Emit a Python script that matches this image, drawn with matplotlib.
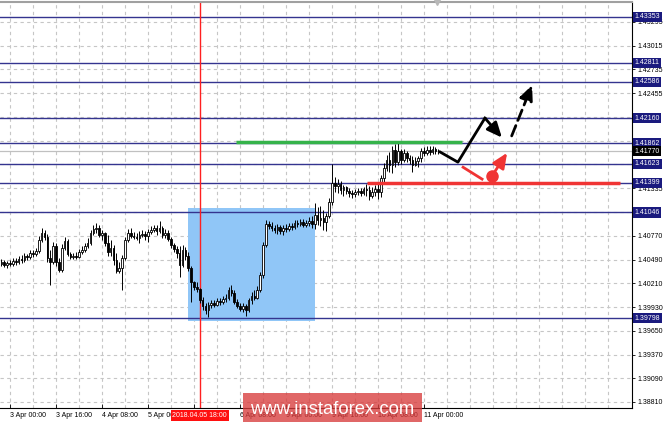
import matplotlib
matplotlib.use("Agg")
import matplotlib.pyplot as plt
import matplotlib.patches as mpatches
import numpy as np

# ── H1 candles, first bar = 2 Apr 21:00 (bar index -3, 0 = 3 Apr 00:00) ──────
first_bar = -3
opens = [
    1.4044, 1.4046, 1.4043, 1.4045, 1.4044, 1.4047, 1.4046, 1.4050, 1.4049, 1.4053,
    1.4052, 1.4057, 1.4056, 1.4059, 1.4072, 1.4080, 1.4076, 1.4051, 1.4046, 1.4065,
    1.4046, 1.4037, 1.4063, 1.4071, 1.4056, 1.4052, 1.4053, 1.4052, 1.4058, 1.4060,
    1.4065, 1.4069, 1.4080, 1.4085, 1.4086, 1.4078, 1.4080, 1.4069, 1.4058, 1.4063,
    1.4049, 1.4036, 1.4039, 1.4051, 1.4072, 1.4080, 1.4077, 1.4076, 1.4075, 1.4078,
    1.4079, 1.4077, 1.4082, 1.4084, 1.4086, 1.4083, 1.4086, 1.4078, 1.4080, 1.4073,
    1.4066, 1.4062, 1.4057, 1.4043, 1.4060, 1.4053, 1.4039, 1.4022, 1.4017, 1.4014,
    1.4001, 1.3994, 1.3990, 1.3996, 1.3998, 1.3996, 1.4000, 1.3999, 1.4003, 1.4004,
    1.4013, 1.4010, 1.3999, 1.3994, 1.3991, 1.3994, 1.3990, 1.4001, 1.4006, 1.4004,
    1.4013, 1.4031, 1.4066, 1.4091, 1.4089, 1.4086, 1.4084, 1.4088, 1.4083, 1.4086,
    1.4085, 1.4089, 1.4088, 1.4092, 1.4091, 1.4093, 1.4090, 1.4092, 1.4095, 1.4091,
    1.4102, 1.4096, 1.4098, 1.4093, 1.4100, 1.4117, 1.4140, 1.4136, 1.4138, 1.4131,
    1.4135, 1.4130, 1.4128, 1.4127, 1.4129, 1.4130, 1.4128, 1.4132, 1.4131, 1.4124,
    1.4129, 1.4132, 1.4129, 1.4145, 1.4157, 1.4167, 1.4161, 1.4178, 1.4164, 1.4177,
    1.4167, 1.4175, 1.4169, 1.4167, 1.4161, 1.4165, 1.4169, 1.4177, 1.4175, 1.4178,
    1.4176, 1.4180, 1.4177,
]
highs = [
    1.4050, 1.4049, 1.4047, 1.4049, 1.4051, 1.4051, 1.4053, 1.4054, 1.4057, 1.4056,
    1.4060, 1.4060, 1.4063, 1.4077, 1.4086, 1.4084, 1.4079, 1.4060, 1.4070, 1.4069,
    1.4051, 1.4067, 1.4076, 1.4073, 1.4058, 1.4057, 1.4058, 1.4062, 1.4065, 1.4069,
    1.4075, 1.4084, 1.4090, 1.4092, 1.4090, 1.4084, 1.4082, 1.4078, 1.4072, 1.4066,
    1.4057, 1.4046, 1.4054, 1.4076, 1.4085, 1.4086, 1.4082, 1.4080, 1.4083, 1.4084,
    1.4083, 1.4085, 1.4089, 1.4090, 1.4090, 1.4095, 1.4089, 1.4085, 1.4084, 1.4076,
    1.4069, 1.4065, 1.4065, 1.4066, 1.4064, 1.4058, 1.4042, 1.4024, 1.4022, 1.4016,
    1.4005, 1.3998, 1.3999, 1.4001, 1.4001, 1.4004, 1.4004, 1.4006, 1.4009, 1.4017,
    1.4019, 1.4013, 1.4003, 1.3998, 1.3998, 1.3997, 1.4004, 1.4011, 1.4013, 1.4018,
    1.4034, 1.4070, 1.4096, 1.4095, 1.4093, 1.4090, 1.4091, 1.4090, 1.4090, 1.4091,
    1.4092, 1.4092, 1.4096, 1.4096, 1.4097, 1.4097, 1.4096, 1.4099, 1.4100, 1.4116,
    1.4111, 1.4112, 1.4108, 1.4104, 1.4122, 1.4162, 1.4147, 1.4144, 1.4142, 1.4137,
    1.4136, 1.4134, 1.4131, 1.4132, 1.4134, 1.4134, 1.4135, 1.4138, 1.4136, 1.4135,
    1.4137, 1.4138, 1.4149, 1.4163, 1.4173, 1.4176, 1.4183, 1.4186, 1.4188, 1.4180,
    1.4180, 1.4177, 1.4173, 1.4171, 1.4170, 1.4171, 1.4181, 1.4182, 1.4183, 1.4183,
    1.4183, 1.4182, 1.4180,
]
lows = [
    1.4042, 1.4040, 1.4039, 1.4042, 1.4042, 1.4043, 1.4044, 1.4045, 1.4046, 1.4049,
    1.4050, 1.4052, 1.4053, 1.4057, 1.4070, 1.4072, 1.4046, 1.4019, 1.4044, 1.4042,
    1.4034, 1.4034, 1.4060, 1.4053, 1.4050, 1.4050, 1.4050, 1.4051, 1.4056, 1.4058,
    1.4063, 1.4066, 1.4078, 1.4080, 1.4076, 1.4072, 1.4065, 1.4053, 1.4053, 1.4043,
    1.4033, 1.4033, 1.4013, 1.4049, 1.4070, 1.4075, 1.4073, 1.4072, 1.4069, 1.4076,
    1.4072, 1.4070, 1.4079, 1.4082, 1.4078, 1.4080, 1.4075, 1.4075, 1.4071, 1.4063,
    1.4058, 1.4051, 1.4029, 1.4040, 1.4049, 1.4036, 1.3999, 1.4013, 1.4011, 1.3998,
    1.3990, 1.3985, 1.3981, 1.3992, 1.3993, 1.3994, 1.3996, 1.3997, 1.3999, 1.4001,
    1.4006, 1.3997, 1.3992, 1.3988, 1.3987, 1.3983, 1.3987, 1.3997, 1.4001, 1.4003,
    1.4011, 1.4027, 1.4064, 1.4085, 1.4083, 1.4080, 1.4079, 1.4079, 1.4078, 1.4082,
    1.4083, 1.4084, 1.4085, 1.4088, 1.4089, 1.4088, 1.4088, 1.4089, 1.4086, 1.4085,
    1.4090, 1.4089, 1.4084, 1.4083, 1.4098, 1.4113, 1.4129, 1.4128, 1.4127, 1.4124,
    1.4127, 1.4123, 1.4122, 1.4123, 1.4125, 1.4124, 1.4125, 1.4124, 1.4119, 1.4122,
    1.4124, 1.4121, 1.4123, 1.4140, 1.4154, 1.4152, 1.4151, 1.4158, 1.4161, 1.4162,
    1.4164, 1.4164, 1.4162, 1.4152, 1.4160, 1.4158, 1.4164, 1.4171, 1.4173, 1.4173,
    1.4174, 1.4174, 1.4174,
]
closes = [
    1.4046, 1.4043, 1.4045, 1.4044, 1.4047, 1.4046, 1.4050, 1.4049, 1.4053, 1.4052,
    1.4057, 1.4056, 1.4059, 1.4072, 1.4080, 1.4076, 1.4051, 1.4046, 1.4065, 1.4046,
    1.4037, 1.4063, 1.4071, 1.4056, 1.4052, 1.4053, 1.4052, 1.4058, 1.4060, 1.4065,
    1.4069, 1.4080, 1.4085, 1.4086, 1.4078, 1.4080, 1.4069, 1.4058, 1.4063, 1.4049,
    1.4036, 1.4039, 1.4051, 1.4072, 1.4080, 1.4077, 1.4076, 1.4075, 1.4078, 1.4079,
    1.4077, 1.4082, 1.4084, 1.4086, 1.4083, 1.4086, 1.4078, 1.4080, 1.4073, 1.4066,
    1.4062, 1.4057, 1.4043, 1.4060, 1.4053, 1.4039, 1.4022, 1.4017, 1.4014, 1.4001,
    1.3994, 1.3990, 1.3996, 1.3998, 1.3996, 1.4000, 1.3999, 1.4003, 1.4004, 1.4013,
    1.4010, 1.3999, 1.3994, 1.3991, 1.3994, 1.3990, 1.4001, 1.4006, 1.4004, 1.4013,
    1.4031, 1.4066, 1.4091, 1.4089, 1.4086, 1.4084, 1.4088, 1.4083, 1.4086, 1.4085,
    1.4089, 1.4088, 1.4092, 1.4091, 1.4093, 1.4090, 1.4092, 1.4095, 1.4091, 1.4102,
    1.4096, 1.4098, 1.4093, 1.4100, 1.4117, 1.4140, 1.4136, 1.4138, 1.4131, 1.4135,
    1.4130, 1.4128, 1.4127, 1.4129, 1.4130, 1.4128, 1.4132, 1.4131, 1.4124, 1.4129,
    1.4132, 1.4129, 1.4145, 1.4157, 1.4167, 1.4161, 1.4178, 1.4164, 1.4177, 1.4167,
    1.4175, 1.4169, 1.4167, 1.4161, 1.4165, 1.4169, 1.4177, 1.4175, 1.4178, 1.4176,
    1.4180, 1.4177, 1.4177,
]

# horizontal levels (navy), bid price, axis ticks
levels = [1.43353, 1.42811, 1.42586, 1.42160, 1.41862, 1.41623, 1.41399, 1.41046, 1.39798]
bid = 1.41770
grid_prices = [1.43295, 1.43015, 1.42735, 1.42455, 1.42175, 1.41895, 1.41615, 1.41335,
               1.41050, 1.40770, 1.40490, 1.40210, 1.39930, 1.39650, 1.39370, 1.39090, 1.38810]
# labels that sit under a level box are not shown
price_labels = ["1.43295", "1.43015", "1.42735", "1.42455", "", "", "",
                "1.41335", "", "1.40770", "1.40490", "1.40210", "1.39930", "1.39650",
                "1.39370", "1.39090", "1.38810"]
time_ticks = [0, 16, 32, 48, 64, 80, 96, 112, 128, 144]
time_labels = ["3 Apr 00:00", "3 Apr 16:00", "4 Apr 08:00", "5 Apr 00:00", "",
               "6 Apr 08:00", "9 Apr 00:00", "9 Apr 16:00", "10 Apr 08:00", "11 Apr 00:00"]
marker_bar = 66            # 2018.04.05 18:00
marker_label = "2018.04.05 18:00"

# analyst drawings (bar index, price)
box_zone = (61.9, 106.1, 1.3977, 1.4110)
green_res = (78.6, 157.2, 1.41882)
red_sup = (124.2, 212.2, 1.41399)
black_path = [(149.6, 1.4176), (155.8, 1.4164), (165.2, 1.4216), (171.1, 1.4193)]
black_dash = [(174.5, 1.4195), (181.6, 1.4255)]
red_dash = [(157.6, 1.4158), (164.2, 1.4144)]
red_dot = (167.7, 1.4148)
red_arrow_tip = (172.9, 1.4175)

NAVY = "#34348f"
NAVY_BOX = "#1a1a7e"
GRID = "#c6c6c6"
FS = 5.0

plt.rcParams["font.family"] = ["Liberation Sans", "DejaVu Sans"]

fig = plt.figure(figsize=(6.65, 4.22), dpi=100)
ax = fig.add_axes([0, 14 / 422, 632 / 665, 406 / 422])
ax.set_xlim(-3.48, 216.35)
ax.set_ylim(1.38739, 1.43530)

# grid
for gx in range(0, 216, 8):
    ax.axvline(gx, color=GRID, lw=0.8, ls=(0, (3, 3)), zorder=0)
for gy in grid_prices:
    ax.axhline(gy, color=GRID, lw=0.8, ls=(0, (3, 3)), zorder=0)

# zone
x0, x1, y0, y1 = box_zone
ax.add_patch(mpatches.Rectangle((x0, y0), x1 - x0, y1 - y0, color="#90c6f7", lw=0, zorder=1))

# levels
for lv in levels:
    ax.axhline(lv, color=NAVY, lw=1.0, zorder=2)
ax.axhline(bid, color="#c0c0c0", lw=0.9, zorder=2)
ax.axvline(marker_bar, color="#ff2020", lw=1.0, zorder=2)

# candles
o = np.array(opens); h = np.array(highs); l = np.array(lows); c = np.array(closes)
xs = np.arange(len(c)) + first_bar
ax.vlines(xs, l, h, color="black", lw=0.7, zorder=3)
up = c >= o
ax.bar(xs[up], c[up] - o[up], bottom=o[up], width=0.6, color="white",
       edgecolor="black", lw=0.6, zorder=4)
ax.bar(xs[~up], o[~up] - c[~up], bottom=c[~up], width=0.6, color="black",
       edgecolor="black", lw=0.6, zorder=4)

# drawings
ax.plot(green_res[:2], [green_res[2]] * 2, color="#35b34a", lw=2.5, zorder=5, solid_capstyle="butt")
ax.plot(red_sup[:2], [red_sup[2]] * 2, color="#f03434", lw=2.5, zorder=5, solid_capstyle="butt")
bx, by = zip(*black_path)
ax.plot(bx[:-1], by[:-1], color="black", lw=2, zorder=6)
head = "-|>,head_length=0.9,head_width=0.4"
ax.annotate("", xy=black_path[-1], xytext=black_path[-2],
            arrowprops=dict(arrowstyle=head, color="black", lw=2, shrinkA=0, shrinkB=0), zorder=6)
ax.annotate("", xy=black_dash[1], xytext=black_dash[0],
            arrowprops=dict(arrowstyle=head, color="black", lw=2, ls=(0, (4, 2)),
                            shrinkA=0, shrinkB=0), zorder=6)
rx, ry = zip(*red_dash)
ax.plot(rx, ry, color="#f03434", lw=2, zorder=6)
ax.plot(*red_dot, "o", color="#f03434", ms=8, zorder=6)
ax.annotate("", xy=red_arrow_tip, xytext=red_dot,
            arrowprops=dict(arrowstyle=head, color="#f03434", lw=2, shrinkA=0, shrinkB=0), zorder=6)

# axes frame
ax.spines["left"].set_visible(False)
ax.spines["top"].set_color("#a0a0a0")
ax.spines["top"].set_linewidth(1.5)
ax.spines["right"].set_color("black")
ax.spines["bottom"].set_color("black")
ax.plot([148.5], [1.0], marker="v", color="#b8b8b8", ms=5, transform=ax.get_xaxis_transform(),
        clip_on=False, zorder=7)

ax.yaxis.tick_right()
ax.set_yticks(grid_prices)
ax.set_yticklabels(price_labels)
ax.tick_params(axis="y", length=2.5, width=0.6, pad=1.2, labelsize=FS, colors="black")
ax.set_xticks(time_ticks)
ax.set_xticklabels(time_labels, ha="left")
ax.tick_params(axis="x", length=3, width=0.6, pad=3, labelsize=FS, direction="in")
ax.grid(False)

# price boxes on right scale
ytr = ax.get_yaxis_transform()
for lv in levels:
    ax.text(1.004, lv, f"{lv:.5f}", transform=ytr, ha="left", va="center", fontsize=FS,
            color="white", bbox=dict(boxstyle="square,pad=0.22", fc=NAVY_BOX, ec="none"),
            clip_on=False, zorder=10)
ax.text(1.004, bid, f"{bid:.5f}", transform=ytr, ha="left", va="center", fontsize=FS,
        color="white", bbox=dict(boxstyle="square,pad=0.22", fc="black", ec="none"),
        clip_on=False, zorder=10)

# vertical marker date label
ax.text(marker_bar, -0.01, marker_label, transform=ax.get_xaxis_transform(), ha="center",
        va="top", fontsize=FS, color="white",
        bbox=dict(boxstyle="square,pad=0.25", fc="#ff1010", ec="none"), clip_on=False, zorder=10)

# watermark
fig.patches.append(mpatches.Rectangle((243 / 665, 0), 179 / 665, 29 / 422, transform=fig.transFigure,
                                      color="#d83c3c", alpha=0.78, lw=0, zorder=20))
fig.text(332 / 665, 12 / 422, "www.instaforex.com", ha="center", va="center",
         fontsize=13.3, color="white", zorder=21)

fig.savefig("out.png", dpi=100)
